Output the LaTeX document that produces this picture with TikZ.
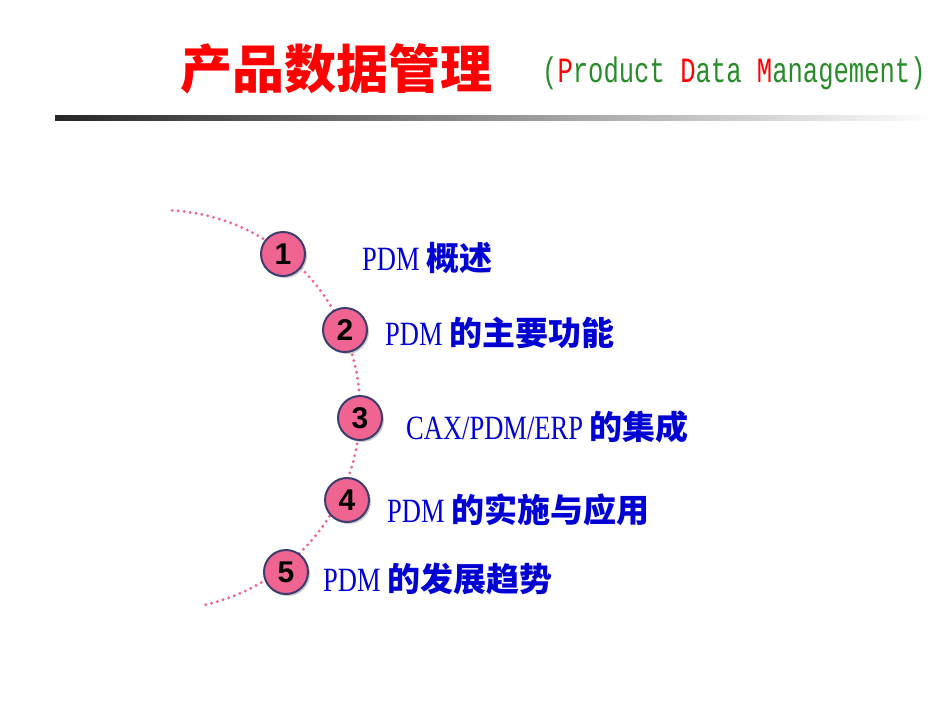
\documentclass[tikz,border=0pt]{standalone}
\usepackage{fontspec}
\setmainfont{Liberation Serif}
\newfontfamily\cjk{Noto Sans CJK SC Black}
\newfontfamily\numf{Liberation Sans}
\newfontfamily\monof{Liberation Mono}
\usetikzlibrary{shadows}
\definecolor{pinkc}{RGB}{240,100,145}
\definecolor{rimc}{RGB}{60,60,110}
\definecolor{itemc}{RGB}{0,0,210}
\definecolor{greenc}{RGB}{40,140,40}
\tikzset{
  numc/.style={circle,draw=rimc,line width=2pt,fill=pinkc,minimum size=44pt,inner sep=0pt,
    font=\numf\bfseries\fontsize{30}{30}\selectfont,drop shadow={shadow xshift=2pt,shadow yshift=-2pt,opacity=0.4}},
  item/.style={anchor=west,text=itemc,inner sep=0pt,font=\addfontfeature{FakeStretch=0.78}\fontsize{34}{34}\selectfont}
}
\newcommand{\cz}[1]{{\cjk\fontsize{33}{33}\selectfont #1}}
\begin{document}
\begin{tikzpicture}[x=1pt,y=-1pt]
\useasboundingbox (0,0) rectangle (950,713);
\node[anchor=west,inner sep=0pt,text=red] (t1) at (180,69) {\cjk\fontsize{52}{52}\selectfont 产品数据管理};
\node[anchor=west,inner sep=0pt,text=greenc] (t2) at (542,73) {\monof\addfontfeature{FakeStretch=0.72}\fontsize{35.5}{35.5}\selectfont(\textcolor{red}{P}roduct \textcolor{red}{D}ata \textcolor{red}{M}anagement)};
\shade[left color=black!85,right color=white] (55,115) rectangle (935,120);
\draw[pinkc,line width=3.2pt,line cap=round,dash pattern=on 0pt off 6pt] (160,410) ++(-86.5:200) arc[start angle=-86.5,end angle=77.6,radius=200];
\node[numc] (c1) at (283,254) {1};
\node[numc] (c2) at (345,330) {2};
\node[numc] (c3) at (360,418) {3};
\node[numc] (c4) at (347,500) {4};
\node[numc] (c5) at (286,572) {5};
\node[item] (i1) at (362,258) {PDM \cz{概述}};
\node[item] (i2) at (385,333) {PDM \cz{的主要功能}};
\node[item] (i3) at (406,427) {CAX/PDM/ERP \cz{的集成}};
\node[item] (i4) at (387,510) {PDM \cz{的实施与应用}};
\node[item] (i5) at (323,579) {PDM \cz{的发展趋势}};
\end{tikzpicture}
\end{document}
